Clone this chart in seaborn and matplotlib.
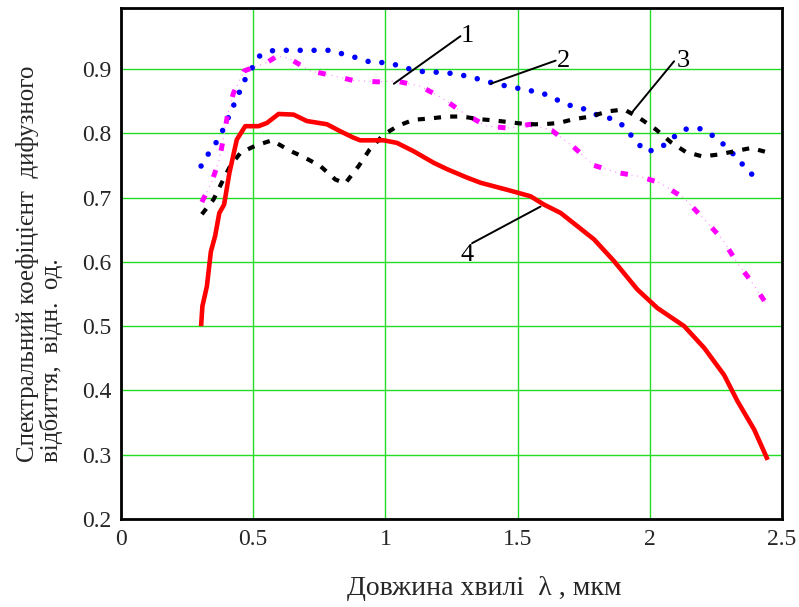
import matplotlib
matplotlib.use("Agg")
import matplotlib.pyplot as plt
import seaborn as sns
import pandas as pd

# Curve 1 (blue dotted)
x1 = [0.303, 0.335, 0.371, 0.395, 0.418, 0.441, 0.464, 0.495, 0.524, 0.577, 0.63, 0.683, 0.736,
      0.789, 0.842, 0.895, 0.948, 1.0, 1.054, 1.107, 1.16, 1.214, 1.268, 1.319, 1.372, 1.425,
      1.48, 1.533, 1.586, 1.638, 1.692, 1.744, 1.798, 1.851, 1.904, 1.943, 1.987, 2.04, 2.094,
      2.14, 2.19, 2.244, 2.298, 2.336, 2.38, 2.418]
y1 = [0.749, 0.771, 0.792, 0.814, 0.836, 0.857, 0.880, 0.901, 0.920, 0.929, 0.929, 0.929, 0.929,
      0.929, 0.923, 0.917, 0.910, 0.910, 0.905, 0.898, 0.895, 0.895, 0.892, 0.888, 0.882, 0.876,
      0.872, 0.867, 0.864, 0.854, 0.844, 0.839, 0.829, 0.823, 0.811, 0.789, 0.771, 0.777, 0.795,
      0.807, 0.807, 0.795, 0.776, 0.758, 0.739, 0.721]

# Curve 2 (magenta dash-dot)
x2 = [0.306, 0.344, 0.372, 0.388, 0.403, 0.425, 0.466, 0.552, 0.59, 0.634, 0.716, 0.798, 0.88,
      0.968, 1.044, 1.133, 1.214, 1.297, 1.383, 1.467, 1.549, 1.631, 1.711, 1.789, 1.875, 1.96,
      2.038, 2.13, 2.206, 2.275, 2.328, 2.383, 2.439]
y2 = [0.693, 0.725, 0.759, 0.793, 0.828, 0.862, 0.897, 0.910, 0.920, 0.917, 0.897, 0.890, 0.882,
      0.880, 0.881, 0.873, 0.855, 0.831, 0.811, 0.808, 0.814, 0.804, 0.779, 0.750, 0.739, 0.733,
      0.723, 0.699, 0.666, 0.635, 0.600, 0.570, 0.536]

# Curve 3 (black dashed)
x3 = [0.306, 0.35, 0.381, 0.413, 0.453, 0.511, 0.571, 0.638, 0.691, 0.754, 0.811, 0.848, 0.899,
      0.941, 0.994, 1.05, 1.107, 1.17, 1.234, 1.29, 1.353, 1.41, 1.473, 1.537, 1.597, 1.656,
      1.713, 1.777, 1.84, 1.903, 1.96, 2.023, 2.08, 2.136, 2.199, 2.263, 2.32, 2.383, 2.439]
y3 = [0.674, 0.697, 0.723, 0.749, 0.770, 0.781, 0.789, 0.773, 0.763, 0.749, 0.728, 0.722, 0.749,
      0.775, 0.798, 0.812, 0.821, 0.823, 0.826, 0.826, 0.822, 0.820, 0.817, 0.814, 0.814, 0.816,
      0.822, 0.826, 0.834, 0.837, 0.824, 0.806, 0.786, 0.771, 0.764, 0.767, 0.772, 0.777, 0.771]

# Curve 4 (red solid)
x4 = [0.303, 0.308, 0.325, 0.34, 0.356, 0.372, 0.39, 0.41, 0.438, 0.47, 0.52, 0.552, 0.596,
      0.653, 0.703, 0.779, 0.83, 0.88, 0.905, 0.994, 1.044, 1.107, 1.183, 1.234, 1.309, 1.36,
      1.461, 1.549, 1.6, 1.663, 1.789, 1.865, 1.953, 2.029, 2.13, 2.206, 2.281, 2.332, 2.395, 2.446]
y4 = [0.500, 0.531, 0.562, 0.616, 0.640, 0.676, 0.689, 0.738, 0.790, 0.811, 0.811, 0.816, 0.830,
      0.829, 0.819, 0.814, 0.803, 0.793, 0.789, 0.789, 0.785, 0.772, 0.754, 0.744, 0.731, 0.723,
      0.712, 0.702, 0.689, 0.676, 0.635, 0.601, 0.557, 0.528, 0.500, 0.466, 0.424, 0.383, 0.339, 0.292]

# Curve labels with leader lines
labels = ["1", "2", "3", "4"]
leader_start = [(1.032, 0.877), (1.398, 0.877), (1.934, 0.833), (1.587, 0.686)]
leader_end = [(1.284, 0.951), (1.644, 0.913), (2.092, 0.912), (1.328, 0.629)]
label_pos = [(1.31, 0.952), (1.675, 0.912), (2.125, 0.912), (1.31, 0.610)]

xticks = [0, 0.5, 1, 1.5, 2, 2.5]
xticklabels = ["0", "0.5", "1", "1.5", "2", "2.5"]
yticks = [0.2, 0.3, 0.4, 0.5, 0.6, 0.7, 0.8, 0.9]
yticklabels = ["0.2", "0.3", "0.4", "0.5", "0.6", "0.7", "0.8", "0.9"]

xlabel = "Довжина хвилі  λ , мкм"
ylabel = "Спектральний коефіцієнт  дифузного\nвідбиття,  відн.  од."

sns.set_style("white")
plt.rcParams["font.family"] = ["Liberation Serif", "DejaVu Serif"]

fig = plt.figure(figsize=(7.99, 6.07), dpi=100)
ax = fig.add_axes([0.1514, 0.145, 0.8273, 0.842])

grid_color = "#22dd22"
ax.set_xticks(xticks)
ax.set_yticks(yticks)
ax.grid(True, color=grid_color, lw=1.0)
ax.set_axisbelow(True)

d1 = pd.DataFrame({"x": x1, "y": y1})
d2 = pd.DataFrame({"x": x2, "y": y2})
d3 = pd.DataFrame({"x": x3, "y": y3})
d4 = pd.DataFrame({"x": x4, "y": y4})

sns.lineplot(data=d1, x="x", y="y", ax=ax, sort=False, estimator=None, color="#0000ff",
             lw=4.0, dash_capstyle="round", linestyle=(0, (0.001, 2.5)))
sns.lineplot(data=d2, x="x", y="y", ax=ax, sort=False, estimator=None, color="#ff88ff",
             lw=0.8, linestyle=(0, (1, 4)))
sns.lineplot(data=d2, x="x", y="y", ax=ax, sort=False, estimator=None, color="#ff00ff",
             lw=3.6, linestyle=(0, (1.5, 4.0)))
sns.lineplot(data=d3, x="x", y="y", ax=ax, sort=False, estimator=None, color="black",
             lw=3.0, linestyle=(0, (1.7, 2.2)))
sns.lineplot(data=d4, x="x", y="y", ax=ax, sort=False, estimator=None, color="#ff0000",
             lw=3.3, solid_capstyle="butt")

for lab, s, e, p in zip(labels, leader_start, leader_end, label_pos):
    ax.annotate("", xy=s, xytext=e, arrowprops=dict(arrowstyle="-", color="black", lw=1.4,
                                                    shrinkA=0, shrinkB=0))
    ax.text(p[0], p[1], lab, fontsize=19, ha="center", va="center", color="black")

ax.set_xlim(0, 2.5)
ax.set_ylim(0.2, 0.995)
ax.set_xticklabels(xticklabels, fontsize=17)
ax.set_yticklabels(yticklabels, fontsize=17)
ax.tick_params(axis="x", length=0, pad=7)
ax.tick_params(axis="y", length=0, pad=7)
ax.set_xlabel(xlabel, fontsize=20)
ax.xaxis.set_label_coords(0.549, -0.112)
ax.set_ylabel(ylabel, fontsize=18, linespacing=1.0, multialignment="left")
ax.yaxis.set_label_coords(-0.088, 0.5)

for sp in ax.spines.values():
    sp.set_visible(True)
    sp.set_color("black")
    sp.set_linewidth(2.0)

fig.savefig("out.png", dpi=100)
